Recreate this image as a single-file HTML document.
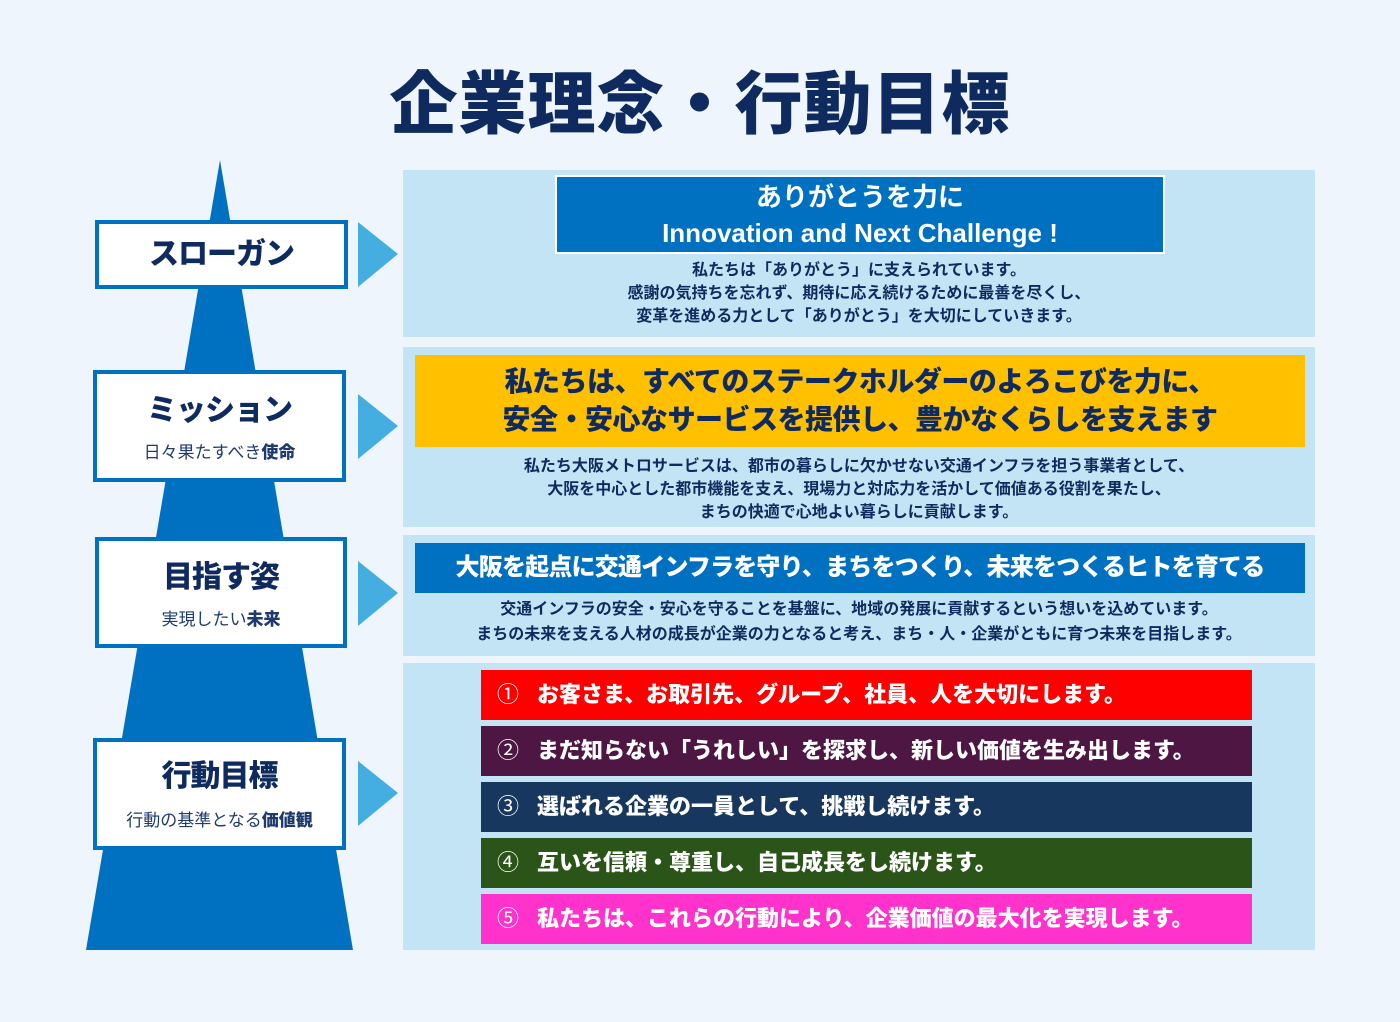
<!DOCTYPE html>
<html><head><meta charset="utf-8"><style>
*{margin:0;padding:0;box-sizing:border-box}
body{width:1400px;height:1022px;background:#eef5fc;font-family:"Liberation Sans","Noto Sans CJK JP",sans-serif;position:relative;overflow:hidden;color:#0f2a5e}
.a{position:absolute}
.t{position:absolute;left:0;width:1400px;top:62px;text-align:center;font-size:68px;font-weight:900;color:#0f2a5e;letter-spacing:1px;line-height:86px}
.box{position:absolute;background:#fff;border:4px solid #0070c0;text-align:center;font-weight:900}
.box .h{font-size:30px;color:#0f2a5e;letter-spacing:-1px}
.box .s{font-size:17px;font-weight:400;color:#1f3a6e}
.box .s b{font-weight:900}
.panel{position:absolute;left:403px;width:912px;background:#c3e4f4}
.d{position:absolute;left:0;width:912px;text-align:center;font-size:16px;font-weight:700;line-height:23px;color:#0f2a5e}
.row{position:absolute;left:481px;width:771px;height:50px;color:#fff;font-size:22px;font-weight:900;line-height:50px;padding-left:16px}
.row span{display:inline-block;width:40px;font-weight:400}
</style></head><body>
<div class="t">企業理念・行動目標</div>
<svg class="a" style="left:0;top:0" width="1400" height="1022">
<polygon points="220,160 353,950 86,950" fill="#0070c0"/>
<polygon points="358,222 398,254 358,287" fill="#44aee0"/>
<polygon points="358,394 398,426 358,459" fill="#44aee0"/>
<polygon points="358,561 398,593 358,626" fill="#44aee0"/>
<polygon points="358,761 398,793 358,826" fill="#44aee0"/>
</svg>
<div class="box" style="left:95px;top:220px;width:253px;height:69px"><div class="h" style="line-height:62px">スローガン</div></div>
<div class="box" style="left:93px;top:370px;width:253px;height:112px"><div class="h" style="margin-top:18px;line-height:38px">ミッション</div><div class="s" style="margin-top:8px">日々果たすべき<b>使命</b></div></div>
<div class="box" style="left:95px;top:537px;width:252px;height:111px"><div class="h" style="margin-top:18px;line-height:38px">目指す姿</div><div class="s" style="margin-top:8px">実現したい<b>未来</b></div></div>
<div class="box" style="left:93px;top:738px;width:253px;height:112px"><div class="h" style="margin-top:16px;line-height:38px">行動目標</div><div class="s" style="margin-top:10px">行動の基準となる<b>価値観</b></div></div>

<div class="panel" style="top:170px;height:167px">
<div class="a" style="left:152px;top:5px;width:610px;height:79px;background:#0070c0;border:2px solid #fff;color:#fff;text-align:center;font-size:26px;font-weight:700;line-height:36px;padding-top:2px">ありがとうを力に<br>Innovation and Next Challenge !</div>
<div class="d" style="top:89px">私たちは「ありがとう」に支えられています。<br>感謝の気持ちを忘れず、期待に応え続けるために最善を尽くし、<br>変革を進める力として「ありがとう」を大切にしていきます。</div>
</div>
<div class="panel" style="top:347px;height:180px">
<div class="a" style="left:12px;top:8px;width:890px;height:92px;background:#ffc000;text-align:center;font-size:28px;font-weight:900;line-height:38px;padding-top:8px;letter-spacing:-0.5px">私たちは、すべてのステークホルダーのよろこびを力に、<br>安全・安心なサービスを提供し、豊かなくらしを支えます</div>
<div class="d" style="top:108px">私たち大阪メトロサービスは、都市の暮らしに欠かせない交通インフラを担う事業者として、<br>大阪を中心とした都市機能を支え、現場力と対応力を活かして価値ある役割を果たし、<br>まちの快適で心地よい暮らしに貢献します。</div>
</div>
<div class="panel" style="top:535px;height:121px">
<div class="a" style="left:12px;top:8px;width:890px;height:50px;background:#0070c0;color:#fff;text-align:center;font-size:24px;font-weight:900;line-height:50px;letter-spacing:-0.8px;white-space:nowrap">大阪を起点に交通インフラを守り、まちをつくり、未来をつくるヒトを育てる</div>
<div class="d" style="top:62px;line-height:25px">交通インフラの安全・安心を守ることを基盤に、地域の発展に貢献するという想いを込めています。<br>まちの未来を支える人材の成長が企業の力となると考え、まち・人・企業がともに育つ未来を目指します。</div>
</div>
<div class="panel" style="top:663px;height:287px"></div>
<div class="row" style="top:670px;background:#ff0000"><span>①</span>お客さま、お取引先、グループ、社員、人を大切にします。</div>
<div class="row" style="top:726px;background:#4e1743"><span>②</span>まだ知らない「うれしい」を探求し、新しい価値を生み出します。</div>
<div class="row" style="top:782px;background:#17375e"><span>③</span>選ばれる企業の一員として、挑戦し続けます。</div>
<div class="row" style="top:838px;background:#2b5418"><span>④</span>互いを信頼・尊重し、自己成長をし続けます。</div>
<div class="row" style="top:894px;background:#ff33cc"><span>⑤</span>私たちは、これらの行動により、企業価値の最大化を実現します。</div>
</body></html>
